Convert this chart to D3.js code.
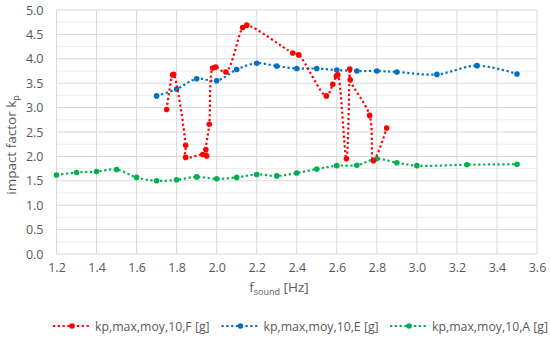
<!DOCTYPE html>
<html><head><meta charset="utf-8">
<script src="https://cdn.jsdelivr.net/npm/d3@7"></script>
<style>body{margin:0;background:#fff}svg{display:block}text{font-family:"Open Sans","Liberation Sans",sans-serif}</style>
</head><body><svg id="c" width="550" height="339"></svg>
<script>
const seriesNames = ["kp,max,moy,10,F [g]", "kp,max,moy,10,E [g]", "kp,max,moy,10,A [g]"];
const seriesColors = ["#FF0000", "#0070C0", "#00B050"];
const xF = [1.75,1.78,1.785,1.845,1.845,1.93,1.95,1.946,1.963,1.98,1.995,2.046,2.13,2.15,2.38,2.41,2.548,2.58,2.598,2.605,2.648,2.665,2.667,2.764,2.783,2.849];
const yF = [2.96,3.67,3.68,2.23,1.98,2.04,2.01,2.14,2.66,3.81,3.83,3.73,4.64,4.69,4.12,4.08,3.24,3.48,3.65,3.67,1.95,3.79,3.57,2.84,1.91,2.58];
const xE = [1.7,1.8,1.9,2.0,2.1,2.2,2.3,2.4,2.5,2.6,2.7,2.8,2.9,3.1,3.3,3.5];
const yE = [3.24,3.38,3.59,3.55,3.78,3.91,3.85,3.80,3.80,3.77,3.75,3.75,3.73,3.68,3.86,3.69];
const xA = [1.2,1.3,1.4,1.5,1.6,1.7,1.8,1.9,2.0,2.1,2.2,2.3,2.4,2.5,2.6,2.7,2.8,2.9,3.0,3.25,3.5];
const yA = [1.62,1.67,1.69,1.73,1.57,1.50,1.52,1.58,1.54,1.57,1.63,1.60,1.66,1.74,1.81,1.82,1.95,1.87,1.81,1.83,1.84];
const xTicks = [1.2,1.4,1.6,1.8,2.0,2.2,2.4,2.6,2.8,3.0,3.2,3.4,3.6];
const yTicks = [0,0.5,1,1.5,2,2.5,3,3.5,4,4.5,5];

const svg = d3.select("#c");
const L=56.5, R=537, T=10, B=254;
const x = d3.scaleLinear().domain([1.2,3.6]).range([L,R]);
const y = d3.scaleLinear().domain([0,5]).range([B,T]);

// minor gridlines
const minor = d3.range(0.25,5,0.5);
svg.append("g").selectAll("line").data(minor).join("line")
  .attr("x1",L).attr("x2",R).attr("y1",d=>y(d)).attr("y2",d=>y(d))
  .attr("stroke","#EDEDED").attr("stroke-width",1);
// major gridlines
svg.append("g").selectAll("line").data(yTicks).join("line")
  .attr("x1",L).attr("x2",R).attr("y1",d=>y(d)).attr("y2",d=>y(d))
  .attr("stroke","#D9D9D9").attr("stroke-width",1);
svg.append("g").selectAll("line").data(xTicks).join("line")
  .attr("y1",T).attr("y2",B).attr("x1",d=>x(d)).attr("x2",d=>x(d))
  .attr("stroke","#D9D9D9").attr("stroke-width",1);

// axes labels
const yAxis = d3.axisLeft(y).tickValues(yTicks).tickFormat(d3.format(".1f")).tickSize(0).tickPadding(13);
const gy = svg.append("g").attr("transform",`translate(${L},0)`).call(yAxis);
gy.select(".domain").remove();
gy.selectAll("text").attr("fill","#595959").style("font-size","12.5px");
const xAxis = d3.axisBottom(x).tickValues(xTicks).tickFormat(d3.format(".1f")).tickSize(0).tickPadding(9);
const gx = svg.append("g").attr("transform",`translate(0,${B})`).call(xAxis);
gx.select(".domain").remove();
gx.selectAll("text").attr("fill","#595959").style("font-size","12.5px");

// axis titles
const yt = svg.append("text").attr("transform","translate(16,145) rotate(-90)")
  .attr("text-anchor","middle").attr("fill","#595959").style("font-size","13.5px");
yt.append("tspan").text("impact factor  k");
yt.append("tspan").text("p").attr("dy",3).style("font-size","9px");
const xt = svg.append("text").attr("x",279).attr("y",292)
  .attr("text-anchor","middle").attr("fill","#595959").style("font-size","13.5px");
xt.append("tspan").text("f");
xt.append("tspan").text("sound").attr("dy",3).style("font-size","9px");
xt.append("tspan").text(" [Hz]").attr("dy",-3);

const data = [d3.zip(xF,yF), d3.zip(xE,yE), d3.zip(xA,yA)];
const line = d3.line().x(d=>x(d[0])).y(d=>y(d[1])).curve(d3.curveCatmullRom.alpha(0.5));
// draw A, E, F order (F on top)
[2,1,0].forEach(i=>{
  const g = svg.append("g");
  g.append("path").attr("d",line(data[i])).attr("fill","none")
    .attr("stroke",seriesColors[i]).attr("stroke-width",2.2).attr("stroke-dasharray","2.2,2.6");
  g.selectAll("circle").data(data[i]).join("circle")
    .attr("cx",d=>x(d[0])).attr("cy",d=>y(d[1])).attr("r",2.8).attr("fill",seriesColors[i]);
});

// legend
const legX = [53, 221.5, 390];
const legY = 326;
seriesNames.forEach((n,i)=>{
  const g = svg.append("g").attr("transform",`translate(${legX[i]},${legY})`);
  g.append("line").attr("x1",0).attr("x2",37).attr("y1",0).attr("y2",0)
    .attr("stroke",seriesColors[i]).attr("stroke-width",2.2).attr("stroke-dasharray","2.2,2.6");
  g.append("circle").attr("cx",19).attr("cy",0).attr("r",2.8).attr("fill",seriesColors[i]);
  g.append("text").attr("x",42).attr("y",4.5).text(n).attr("fill","#595959").style("font-size","12.3px");
});
</script></body></html>
